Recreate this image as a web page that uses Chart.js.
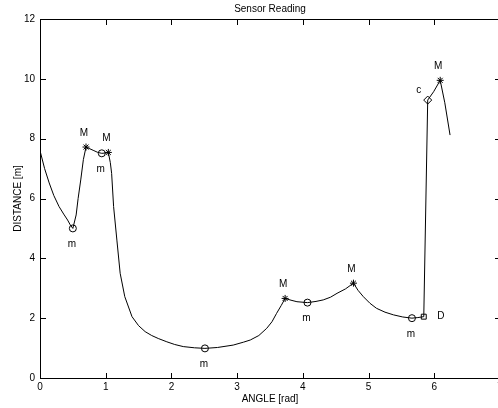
<!DOCTYPE html>
<html><head><meta charset="utf-8">
<script src="https://cdn.jsdelivr.net/npm/chart.js@4"></script>
<style>
html,body{margin:0;padding:0;overflow:hidden;background:#fff;width:498px;height:408px}
#wrap{width:510px;height:408px}
</style></head>
<body><div id="wrap"><canvas id="c" width="510" height="408"></canvas></div>
<script>
// ---- data ----
const curveX = [0, 0.07, 0.14, 0.21, 0.29, 0.36, 0.42, 0.46, 0.50,
  0.55, 0.58, 0.62, 0.66, 0.70,
  0.76, 0.82, 0.88, 0.94, 1.00, 1.04,
  1.07, 1.09, 1.12, 1.17, 1.22, 1.29, 1.40, 1.50, 1.60, 1.70, 1.80, 1.93, 2.05, 2.18, 2.35, 2.51,
  2.70, 2.94, 3.10, 3.20, 3.33, 3.45, 3.53, 3.60, 3.67, 3.73,
  3.82, 3.91, 4.07,
  4.20, 4.31, 4.42, 4.52, 4.65, 4.77,
  4.84, 4.92, 5.02, 5.12, 5.25, 5.38, 5.52, 5.66,
  5.75, 5.84,
  5.90, 5.99, 6.09, 6.16, 6.24];
const curveY = [7.6, 7.0, 6.52, 6.1, 5.73, 5.48, 5.28, 5.12, 5.0,
  5.45, 6.0, 6.62, 7.3, 7.72,
  7.66, 7.6, 7.54, 7.51, 7.52, 7.54,
  7.2, 6.84, 5.73, 4.61, 3.5, 2.72, 2.05, 1.75, 1.55, 1.42, 1.32, 1.21, 1.12, 1.05, 1.01, 0.99,
  1.02, 1.10, 1.20, 1.27, 1.42, 1.66, 1.88, 2.16, 2.42, 2.66,
  2.60, 2.55, 2.52,
  2.56, 2.61, 2.70, 2.83, 2.98, 3.17,
  2.93, 2.72, 2.50, 2.33, 2.20, 2.11, 2.04, 2.00,
  2.02, 2.05,
  9.29, 9.57, 9.95, 9.2, 8.12];

const markerX = [0.50, 0.70, 0.94, 1.04, 2.51, 3.73, 4.07, 4.77, 5.66, 5.84, 5.90, 6.09];
const markerY = [5.0, 7.72, 7.51, 7.54, 0.99, 2.66, 2.52, 3.17, 2.00, 2.05, 9.29, 9.95];
const markerKind = ['m', 'M', 'm', 'M', 'm', 'M', 'm', 'M', 'm', 'D', 'c', 'M'];

const xTicks = [0, 1, 2, 3, 4, 5, 6, 7];
const yTicks = [0, 2, 4, 6, 8, 10, 12];

const titleText = 'Sensor Reading';
const xTitle = 'ANGLE [rad]';
const yTitle = 'DISTANCE [m]';

// ---- styles ----
const FONT = '"Liberation Sans", Arial, Helvetica, sans-serif';
const kindStyle = {
  m: {pointStyle: 'circle', radius: 3.5, dx: -1, dy: 16},
  M: {pointStyle: 'star', radius: 3.5, dx: -2, dy: -14},
  c: {pointStyle: 'rectRot', radius: 4, dx: -9, dy: -10},
  D: {pointStyle: 'rect', radius: 3.5, dx: 17, dy: 0}
};

Chart.defaults.font.family = FONT;
Chart.defaults.font.size = 10;
Chart.defaults.color = '#000';

const boxPlugin = {
  id: 'boxTicks',
  afterDraw(chart) {
    const ctx = chart.ctx;
    const a = chart.chartArea;
    const xs = chart.scales.x, ys = chart.scales.y;
    const L = Math.round(a.left), R = Math.round(a.right);
    const T = Math.round(a.top), B = Math.round(a.bottom);
    ctx.save();
    ctx.fillStyle = '#000';
    // frame
    ctx.fillRect(L, T, R - L + 1, 1);
    ctx.fillRect(L, B, R - L + 1, 1);
    ctx.fillRect(L, T, 1, B - T + 1);
    ctx.fillRect(R, T, 1, B - T + 1);
    const tl = 5;
    xTicks.forEach(v => {
      const px = Math.round(xs.getPixelForValue(v));
      ctx.fillRect(px, B - tl, 1, tl);
      ctx.fillRect(px, T + 1, 1, tl);
    });
    yTicks.forEach(v => {
      const py = Math.round(ys.getPixelForValue(v));
      ctx.fillRect(L + 1, py, tl, 1);
      ctx.fillRect(R - tl, py, tl, 1);
    });
    ctx.font = '10px ' + FONT;
    ctx.textAlign = 'center';
    ctx.textBaseline = 'middle';
    markerKind.forEach((k, i) => {
      const s = kindStyle[k];
      ctx.fillText(k, xs.getPixelForValue(markerX[i]) + s.dx, ys.getPixelForValue(markerY[i]) + s.dy);
    });
    ctx.restore();
  }
};

new Chart(document.getElementById('c'), {
  type: 'scatter',
  data: {
    datasets: [
      {
        data: curveX.map((v, i) => ({x: v, y: curveY[i]})),
        showLine: true,
        borderColor: '#000',
        borderWidth: 1,
        pointRadius: 0,
        tension: 0,
        order: 2
      },
      {
        data: markerX.map((v, i) => ({x: v, y: markerY[i]})),
        showLine: false,
        pointStyle: markerKind.map(k => kindStyle[k].pointStyle),
        pointRadius: markerKind.map(k => kindStyle[k].radius),
        borderColor: '#000',
        backgroundColor: 'rgba(0,0,0,0)',
        borderWidth: 1,
        order: 1
      }
    ]
  },
  options: {
    responsive: false,
    animation: false,
    devicePixelRatio: 1,
    layout: {padding: {left: 0, right: 10, top: 0, bottom: 0}},
    plugins: {
      legend: {display: false},
      tooltip: {enabled: false},
      title: {
        display: true,
        text: titleText,
        fullSize: false,
        color: '#000',
        font: {size: 10, weight: 'normal', family: FONT},
        padding: {top: 3, bottom: 4}
      }
    },
    scales: {
      x: {
        type: 'linear',
        min: 0, max: 7,
        afterFit(s) { s.height = 30; },
        afterBuildTicks(s) { s.ticks = xTicks.map(v => ({value: v})); },
        ticks: {padding: 3, color: '#000', maxRotation: 0, autoSkip: false, font: {size: 10}},
        grid: {display: false, drawTicks: false, tickLength: 0},
        border: {display: false},
        title: {display: true, text: xTitle, color: '#000', font: {size: 10}, padding: {top: 0, bottom: 3}}
      },
      y: {
        type: 'linear',
        min: 0, max: 12,
        afterFit(s) { s.width = 40; },
        afterBuildTicks(s) { s.ticks = yTicks.map(v => ({value: v})); },
        ticks: {padding: 5, color: '#000', autoSkip: false, font: {size: 10}},
        grid: {display: false, drawTicks: false, tickLength: 0},
        border: {display: false},
        title: {display: true, text: yTitle, color: '#000', font: {size: 10}, padding: {top: 12, bottom: 0}}
      }
    }
  },
  plugins: [boxPlugin]
});
</script>
</body></html>
